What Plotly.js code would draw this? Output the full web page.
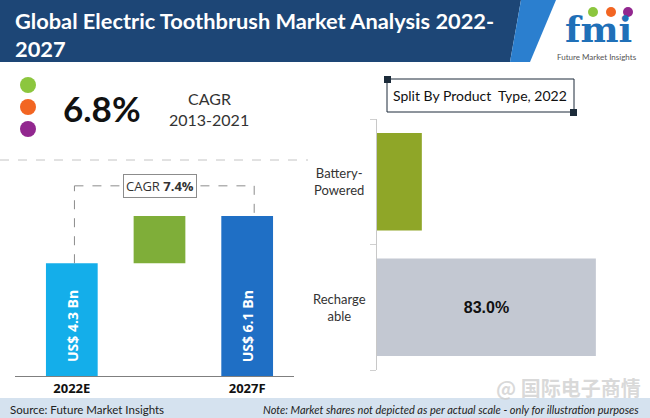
<!DOCTYPE html>
<html><head><meta charset="utf-8">
<script src="https://cdn.plot.ly/plotly-3.0.1.min.js"></script>
<style>html,body{margin:0;padding:0;background:#fff}#chart{width:650px;height:418px}</style>
</head><body><div id="chart"></div>
<script>
// ---------- data ----------
const marketYears = ['2022E', '2027F'];
const marketSizeBn = [4.3, 6.1];
const marketLabels = ['US$ 4.3 Bn', 'US$ 6.1 Bn'];
const growthCategory = 'Growth';
const cagrForecast = '7.4%';
const cagrHistoric = '6.8%';
const cagrHistoricPeriod = '2013-2021';
const productTypes = ['Rechargeable', 'Battery-Powered'];
const productLabels = ['Recharge<br>able', 'Battery-<br>Powered'];
const productShare = [83.0, 17.0];
const productShareText = ['83.0%', ''];

// ---------- helpers (pixel -> paper) ----------
const W = 650, H = 418;
const X = p => p / W, Y = p => 1 - p / H;

const leftCategories = [marketYears[0], growthCategory, marketYears[1]];
const cagrLineLevel = 7.25;   // height of the CAGR connector (layout)
const barLabelLevel = 1.9;    // vertical position of rotated bar labels (layout)

const traces = [
  { type: 'bar', x: marketYears, y: marketSizeBn, width: 0.59,
    marker: { color: ['#14aeea', '#1f6fc5'] }, xaxis: 'x', yaxis: 'y', hoverinfo: 'skip' },
  { type: 'bar', x: [growthCategory], y: [marketSizeBn[1] - marketSizeBn[0]], base: [marketSizeBn[0]],
    width: 0.59, marker: { color: '#7fae39' }, xaxis: 'x', yaxis: 'y', hoverinfo: 'skip' },
  { type: 'bar', orientation: 'h', y: productTypes, x: productShare, width: 0.776,
    text: productShareText, texttemplate: '<b>%{text}</b>', textposition: 'inside', insidetextanchor: 'middle',
    textfont: { family: 'Liberation Sans, Arial', size: 16, color: '#111' },
    marker: { color: ['#c3c8d2', '#8fa628'] }, xaxis: 'x2', yaxis: 'y2', hoverinfo: 'skip' }
];

const P = { xref: 'paper', yref: 'paper' };
const shapes = [
  // header
  { ...P, type: 'path', layer: 'below',
    path: `M ${X(0)},${Y(0)} L ${X(521)},${Y(0)} L ${X(510)},${Y(62)} L ${X(0)},${Y(62)} Z`,
    fillcolor: '#1d4676', line: { width: 0 } },
  { ...P, type: 'path', layer: 'below',
    path: `M ${X(521)},${Y(0)} L ${X(556)},${Y(0)} L ${X(530)},${Y(62)} L ${X(510)},${Y(62)} Z`,
    fillcolor: '#2b7fcf', line: { width: 0 } },
  // bullet dots
  { ...P, type: 'circle', x0: X(20), x1: X(36), y0: Y(77), y1: Y(93), fillcolor: '#8cc63e', line: { width: 0 } },
  { ...P, type: 'circle', x0: X(20), x1: X(36), y0: Y(99), y1: Y(115), fillcolor: '#f26522', line: { width: 0 } },
  { ...P, type: 'circle', x0: X(20), x1: X(36), y0: Y(121), y1: Y(137), fillcolor: '#92278f', line: { width: 0 } },
  // logo circles
  { ...P, type: 'circle', x0: X(588), x1: X(598), y0: Y(7), y1: Y(17), fillcolor: '#8cc63e', line: { width: 0 } },
  { ...P, type: 'circle', x0: X(606), x1: X(616), y0: Y(7), y1: Y(17), fillcolor: '#f26522', line: { width: 0 } },
  { ...P, type: 'circle', x0: X(623), x1: X(633), y0: Y(7), y1: Y(17), fillcolor: '#92278f', line: { width: 0 } },
  // dashed separator
  { ...P, type: 'line', x0: 0, x1: X(308), y0: Y(160), y1: Y(160),
    line: { color: '#c4c4c4', width: 1, dash: 'dash' } },
  // CAGR connector
  { type: 'line', xref: 'x', yref: 'y', x0: 0.03, x1: 0.03, y0: marketSizeBn[0], y1: cagrLineLevel,
    line: { color: '#8c8c8c', width: 1, dash: 'dash' } },
  { type: 'line', xref: 'x', yref: 'y', x0: 0.03, x1: 2.08, y0: cagrLineLevel, y1: cagrLineLevel,
    line: { color: '#8c8c8c', width: 1, dash: 'dash' } },
  { type: 'line', xref: 'x', yref: 'y', x0: 2.08, x1: 2.08, y0: cagrLineLevel, y1: marketSizeBn[1],
    line: { color: '#8c8c8c', width: 1, dash: 'dash' } },
  // split box
  { ...P, type: 'rect', x0: X(387), x1: X(574), y0: Y(112), y1: Y(79),
    line: { color: '#1c2b3a', width: 1 }, fillcolor: 'rgba(0,0,0,0)' },
  { ...P, type: 'rect', x0: X(384), x1: X(391), y0: Y(83), y1: Y(76), line: { width: 0 }, fillcolor: '#1c2b3a' },
  { ...P, type: 'rect', x0: X(570), x1: X(577), y0: Y(116), y1: Y(109), line: { width: 0 }, fillcolor: '#1c2b3a' },
  // footer band
  { ...P, type: 'rect', layer: 'below', x0: 0, x1: 1, y0: 0, y1: Y(398), line: { width: 0 }, fillcolor: '#d5e2ef' }
];

const C = { xanchor: 'center', yanchor: 'middle', showarrow: false };
const annotations = [
  { ...P, showarrow: false, x: X(13), y: Y(5), xanchor: 'left', yanchor: 'top', align: 'left',
    text: '<b>Global Electric Toothbrush Market Analysis 2022-<br>2027</b>',
    font: { family: 'Lato, Open Sans', size: 21.8, color: '#ffffff' } },
  { ...P, ...C, x: X(598), y: Y(29), text: '<b>fmi</b>',
    font: { family: 'DejaVu Serif', size: 36, color: '#1f70b8' } },
  { ...P, ...C, x: X(597), y: Y(57), text: 'Future Market Insights',
    font: { family: 'Lato', size: 8, color: '#555' } },
  { ...P, ...C, x: X(61), y: Y(108), xanchor: 'left', text: '<b>' + cagrHistoric + '</b>',
    font: { family: 'Lato', size: 35, color: '#111' } },
  { ...P, ...C, x: X(209), y: Y(98), text: 'CAGR',
    font: { family: 'Lato', size: 16, color: '#333' } },
  { ...P, ...C, x: X(209), y: Y(119), text: cagrHistoricPeriod,
    font: { family: 'Lato', size: 16, color: '#333' } },
  { xref: 'x', yref: 'y', ...C, x: growthCategory, y: cagrLineLevel,
    text: 'CAGR <b>' + cagrForecast + '</b>', bgcolor: '#ffffff', bordercolor: '#8c8c8c', borderwidth: 1, borderpad: 2,
    font: { family: 'Open Sans', size: 13, color: '#333' } },
  { ...P, ...C, x: X(480), y: Y(95), text: 'Split By Product  Type, 2022',
    font: { family: 'Lato', size: 14, color: '#111' } },
  { ...P, ...C, x: X(8), y: Y(409), xanchor: 'left',
    text: 'Source: Future Market Insights', font: { family: 'Lato', size: 11.5, color: '#222' } },
  { ...P, ...C, x: X(641), y: Y(409), xanchor: 'right',
    text: '<i>Note: Market shares not depicted as per actual scale - only for illustration purposes</i>',
    font: { family: 'Lato', size: 11, color: '#222' } },
  { ...P, ...C, x: X(568), y: Y(387), text: '<b>@ 国际电子商情</b>',
    font: { family: 'Noto Sans CJK SC', size: 20, color: 'rgba(205,205,205,0.75)' } }
];

marketYears.forEach((yr, i) => annotations.push({
  xref: 'x', yref: 'y', ...C, x: yr, y: barLabelLevel, textangle: -90,
  text: '<b>' + marketLabels[i] + '</b>', font: { family: 'Open Sans', size: 14, color: '#ffffff' }
}));
productTypes.forEach((p, i) => annotations.push({
  xref: 'paper', yref: 'y2', ...C, x: X(339), y: p, align: 'center',
  text: productLabels[i], font: { family: 'Lato', size: 13, color: '#333' }
}));

const layout = {
  width: W, height: H, margin: { l: 0, r: 0, t: 0, b: 0 },
  paper_bgcolor: '#ffffff', plot_bgcolor: 'rgba(0,0,0,0)',
  showlegend: false, barmode: 'overlay',
  xaxis: { domain: [X(15), X(294)], type: 'category', categoryorder: 'array', categoryarray: leftCategories,
    range: [-0.648, 2.534], tickvals: marketYears, ticktext: marketYears, showline: true, linecolor: '#7f7f7f', linewidth: 1,
    ticks: '', showgrid: false, zeroline: false, anchor: 'y',
    tickfont: { family: 'Open Sans', size: 13, color: '#111', weight: 'bold' } },
  yaxis: { domain: [Y(376), Y(170)], range: [0, 7.854], visible: false, anchor: 'x' },
  xaxis2: { domain: [X(377), X(640.7)], range: [0, 100], visible: false, anchor: 'y2' },
  yaxis2: { domain: [Y(370), Y(119)], type: 'category', categoryorder: 'array', categoryarray: productTypes,
    range: [-0.5, 1.5], anchor: 'x2', showline: true, linecolor: '#c8c8c8', linewidth: 1,
    ticks: 'outside', tickson: 'boundaries', ticklen: 6, tickcolor: '#d0d0d0', showticklabels: false,
    showgrid: false, zeroline: false },
  shapes: shapes,
  annotations: annotations
};

Plotly.newPlot('chart', traces, layout, { displayModeBar: false, staticPlot: true });
</script></body></html>
